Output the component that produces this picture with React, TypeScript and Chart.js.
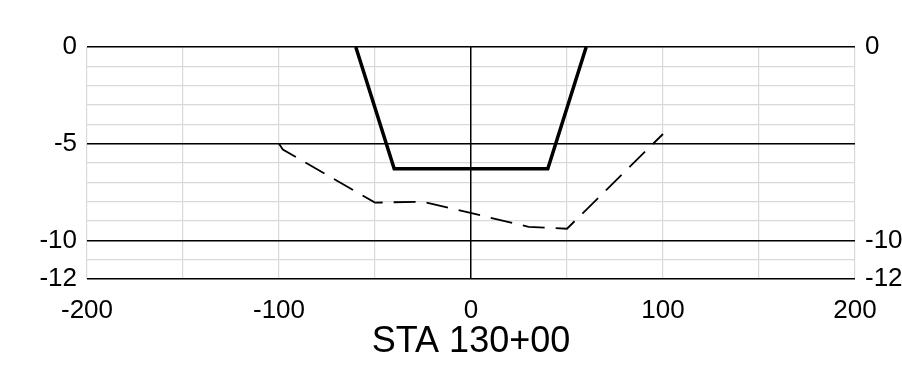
import React, { useEffect, useRef } from "react";
import Chart from "chart.js/auto";

const proposedX = [-60, -40, 40, 60];
const proposedY = [0, -6.3, -6.3, 0];
const existingX = [-100, -98, -50, -25, 30, 50, 100];
const existingY = [-5, -5.3, -8.05, -8, -9.3, -9.4, -4.5];
const xTickLabels = [-200, -100, 0, 100, 200];
const leftTickLabels = [0, -5, -10, -12];
const rightTickLabels = [0, -10, -12];
const darkY = [0, -5, -10, -12];
const darkX = [0];
const title = "STA 130+00";

const FONT = "'Liberation Sans', Arial, sans-serif";

export default function App() {
  const ref = useRef<HTMLCanvasElement>(null);
  useEffect(() => {
    const canvas = ref.current!;
    const chart = new Chart(canvas, {
      type: "scatter",
      data: {
        datasets: [
          {
            data: existingX.map((x, i) => ({ x, y: existingY[i] })),
            showLine: true,
            borderColor: "#000",
            borderWidth: 1.8,
            borderDash: [22, 11],
            pointRadius: 0,
            fill: false,
            tension: 0,
          },
          {
            data: proposedX.map((x, i) => ({ x, y: proposedY[i] })),
            showLine: true,
            borderColor: "#000",
            borderWidth: 3.5,
            pointRadius: 0,
            fill: false,
            tension: 0,
          },
        ],
      },
      options: {
        animation: false,
        responsive: false,
        maintainAspectRatio: false,
        devicePixelRatio: 1,
        layout: { padding: { top: 47, left: 0, right: 0, bottom: 0 } },
        plugins: { legend: { display: false }, tooltip: { enabled: false } },
        scales: {
          x: {
            type: "linear",
            position: "bottom",
            min: -200,
            max: 200,
            border: { display: false },
            grid: {
              z: -2,
              drawTicks: false,
              color: (c: any) => (darkX.includes(c.tick?.value) ? "#000" : "#d9d9d9"),
              lineWidth: (c: any) => (darkX.includes(c.tick?.value) ? 1.5 : 1.2),
            },
            ticks: {
              stepSize: 50,
              autoSkip: false,
              maxRotation: 0,
              padding: 16,
              color: "#000",
              font: { family: FONT, size: 26 },
              callback: (v: any) => (xTickLabels.includes(Number(v)) ? String(v) : ""),
            },
            title: {
              display: true,
              text: title,
              color: "#000",
              font: { family: FONT, size: 36 },
              padding: { top: 0, bottom: 6 },
            },
            afterFit: (s: any) => {
              s.height = 91;
            },
          },
          y: {
            type: "linear",
            position: "left",
            min: -12,
            max: 0,
            border: { display: false },
            grid: {
              z: -3,
              drawTicks: false,
              color: "#d9d9d9",
              lineWidth: 1.2,
            },
            ticks: {
              stepSize: 1,
              autoSkip: false,
              padding: 10,
              color: "#000",
              font: { family: FONT, size: 26 },
              callback: (v: any) => (leftTickLabels.includes(Number(v)) ? String(v) : ""),
            },
            afterFit: (s: any) => {
              s.width = 87;
            },
          },
          yDark: {
            type: "linear",
            position: "left",
            min: -12,
            max: 0,
            border: { display: false },
            grid: {
              z: -1,
              drawTicks: false,
              color: "#000",
              lineWidth: 1.5,
            },
            afterBuildTicks: (s: any) => {
              s.ticks = darkY.map((v) => ({ value: v }));
            },
            ticks: { display: false },
            afterFit: (s: any) => {
              s.width = 0;
            },
          },
          y2: {
            type: "linear",
            position: "right",
            min: -12,
            max: 0,
            border: { display: false },
            grid: { display: false, drawTicks: false },
            afterBuildTicks: (s: any) => {
              s.ticks = rightTickLabels.map((v) => ({ value: v }));
            },
            ticks: {
              autoSkip: false,
              padding: 10,
              color: "#000",
              font: { family: FONT, size: 26 },
              callback: (v: any) => String(v),
            },
            afterFit: (s: any) => {
              s.width = 47;
            },
          },
        },
      },
    });
    return () => chart.destroy();
  }, []);
  return (
    <div style={{ position: "fixed", left: 0, top: 0, width: 902, height: 370, background: "#fff" }}>
      <canvas ref={ref} width={902} height={370} style={{ display: "block" }} />
    </div>
  );
}
